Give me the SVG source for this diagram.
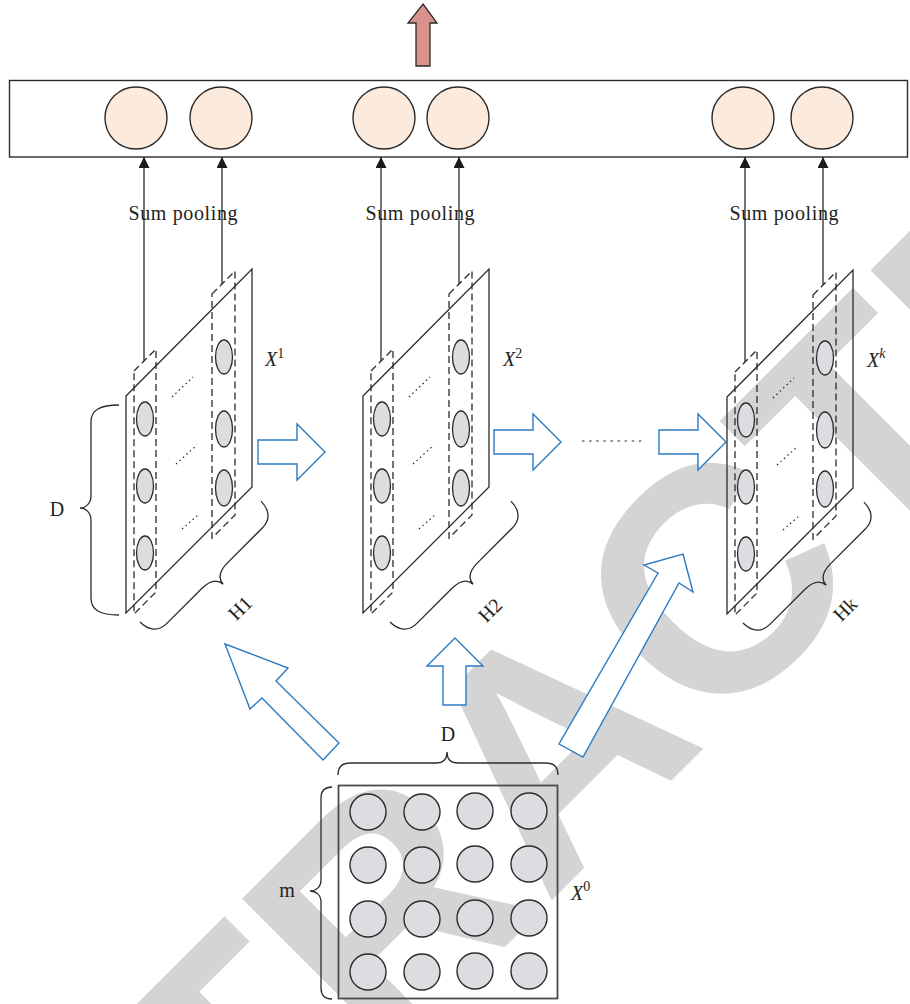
<svg xmlns="http://www.w3.org/2000/svg" xmlns:xlink="http://www.w3.org/1999/xlink" width="910" height="1004" viewBox="0 0 910 1004">
<style>
.ln{fill:none;stroke:#2b2b2b;stroke-width:1.3}
.dash{fill:none;stroke:#2b2b2b;stroke-width:1.3;stroke-dasharray:7 4}
.dot{fill:none;stroke:#2b2b2b;stroke-width:1.2;stroke-dasharray:1.5 3.2}
.ell{fill:#dcdde0;stroke:#2b2b2b;stroke-width:1.3}
.cir{fill:#dcdde0;stroke:#2b2b2b;stroke-width:1.4}
.out{fill:#fcebdc;stroke:#2b2b2b;stroke-width:1.4}
.blue{fill:#ffffff;stroke:#2b7bc2;stroke-width:1.4;stroke-linejoin:miter}
.lbl{font-family:"Liberation Serif",serif;font-size:20px;fill:#231f20}
.it{font-style:italic}
.sup{font-size:14px;font-style:normal}
.wm{font-family:"Liberation Sans",Arial,sans-serif;font-weight:bold;font-size:320px;fill:#d4d4d4}
</style>
<defs>
<marker id="ah" markerUnits="userSpaceOnUse" markerWidth="11" markerHeight="11" refX="11" refY="5.5" orient="auto">
<path d="M0,0 L11,5.5 L0,11 z" fill="#1a1a1a"/>
</marker>
<g id="panel">
<polygon class="ln" points="126,396 252,269 252,487 126,613"/>
<polygon class="dash" points="134,371 156,349 156,592 134,614"/>
<polygon class="dash" points="212,294 235,271 235,515 212,538"/>
<ellipse class="ell" cx="145" cy="419" rx="8.5" ry="17"/>
<ellipse class="ell" cx="145" cy="486" rx="8.5" ry="17"/>
<ellipse class="ell" cx="145" cy="553" rx="8.5" ry="17"/>
<ellipse class="ell" cx="224" cy="357" rx="8.5" ry="17"/>
<ellipse class="ell" cx="224" cy="429" rx="8.5" ry="18"/>
<ellipse class="ell" cx="224" cy="488" rx="8.5" ry="18"/>
<line class="dot" x1="172" y1="397" x2="193" y2="377"/>
<line class="dot" x1="176" y1="464" x2="197" y2="445"/>
<line class="dot" x1="182" y1="529" x2="198" y2="515"/>
</g>
<path id="brace" class="ln" d="M0,0 C0,12 6,20 18,20 L67,20 C78,20 85,24 85.5,32 C86,24 93,20 104,20 L153,20 C165,20 171,12 171,0"/>
</defs>

<g id="watermark">
<text class="wm" x="-70" y="1522" transform="rotate(-45 -70 1522)">RETRACTED</text>
</g>

<g id="output-layer">
<rect x="9.5" y="80.5" width="898" height="76.5" fill="none" stroke="#2b2b2b" stroke-width="1.4"/>
<circle class="out" cx="136" cy="118" r="31"/>
<circle class="out" cx="221" cy="118" r="31"/>
<circle class="out" cx="384" cy="118" r="31"/>
<circle class="out" cx="458" cy="118" r="31"/>
<circle class="out" cx="743" cy="118" r="31"/>
<circle class="out" cx="822" cy="118" r="31"/>
</g>

<g id="panel1">
<use xlink:href="#panel"/>
<text class="lbl it" x="265" y="366">X<tspan class="sup" dy="-8">1</tspan></text>
</g>
<g id="panel2">
<use xlink:href="#panel" transform="translate(237,0)"/>
<text class="lbl it" x="503" y="366">X<tspan class="sup" dy="-8">2</tspan></text>
</g>
<g id="panelk">
<use xlink:href="#panel" transform="translate(601,1)"/>
<text class="lbl it" x="867" y="367">X<tspan class="sup" dy="-9" style="font-style:italic">k</tspan></text>
</g>

<g id="input-x0">
<rect x="338.5" y="785.5" width="219" height="213" fill="none" stroke="#4a4a4a" stroke-width="1.8"/>
<circle class="cir" cx="368" cy="812" r="18"/>
<circle class="cir" cx="422" cy="812" r="18"/>
<circle class="cir" cx="475" cy="811" r="18"/>
<circle class="cir" cx="529" cy="811" r="18"/>
<circle class="cir" cx="368" cy="865" r="18"/>
<circle class="cir" cx="422" cy="865" r="18"/>
<circle class="cir" cx="475" cy="864" r="18"/>
<circle class="cir" cx="529" cy="864" r="18"/>
<circle class="cir" cx="368" cy="919" r="18"/>
<circle class="cir" cx="422" cy="919" r="18"/>
<circle class="cir" cx="475" cy="918" r="18"/>
<circle class="cir" cx="529" cy="918" r="18"/>
<circle class="cir" cx="368" cy="972" r="18"/>
<circle class="cir" cx="422" cy="972" r="18"/>
<circle class="cir" cx="475" cy="971" r="18"/>
<circle class="cir" cx="529" cy="971" r="18"/>
<text class="lbl it" x="571" y="900">X<tspan class="sup" dy="-9">0</tspan></text>
</g>

<g id="braces">
<path class="ln" d="M119,405 C100,405 91,410 91,422 L91,496 C91,503 86,508 80,508 C86,508 91,513 91,520 L91,598 C91,610 100,615 119,615"/>
<text class="lbl" x="57" y="516" text-anchor="middle">D</text>
<use xlink:href="#brace" transform="translate(140,622) rotate(-45)"/>
<text class="lbl" x="240" y="608" dy="7" text-anchor="middle" transform="rotate(-45 240 608)">H1</text>
<use xlink:href="#brace" transform="translate(390,622) rotate(-45)"/>
<text class="lbl" x="490" y="610" dy="7" text-anchor="middle" transform="rotate(-45 490 610)">H2</text>
<use xlink:href="#brace" transform="translate(743,623) rotate(-45)"/>
<text class="lbl" x="845" y="609" dy="7" text-anchor="middle" transform="rotate(-45 845 609)">Hk</text>
<path class="ln" d="M338,775 C338,767 342,763 350,763 L436,763 C443,763 447,759 447,752 C447,759 451,763 458,763 L546,763 C554,763 558,767 558,775"/>
<text class="lbl" x="448" y="741" text-anchor="middle">D</text>
<path class="ln" d="M332,787 C325,787 321,791 321,798 L321,880 C321,887 316,891 310,891 C316,891 321,895 321,902 L321,988 C321,995 325,999 332,999"/>
<text class="lbl" x="287" y="897" text-anchor="middle">m</text>
</g>

<g id="connectors">
<polygon points="423,4 437,23 430,23 430,66 416,66 416,23 408,23" fill="#d8928c" stroke="#2b2b2b" stroke-width="1.3"/>
<line class="ln" x1="144" y1="361" x2="144" y2="157" marker-end="url(#ah)"/>
<line class="ln" x1="222" y1="284" x2="222" y2="157" marker-end="url(#ah)"/>
<line class="ln" x1="381" y1="361" x2="381" y2="157" marker-end="url(#ah)"/>
<line class="ln" x1="459" y1="284" x2="459" y2="157" marker-end="url(#ah)"/>
<line class="ln" x1="745" y1="362" x2="745" y2="157" marker-end="url(#ah)"/>
<line class="ln" x1="823" y1="285" x2="823" y2="157" marker-end="url(#ah)"/>
<text class="lbl" x="183" y="220" text-anchor="middle" textLength="109" lengthAdjust="spacing">Sum pooling</text>
<text class="lbl" x="420" y="220" text-anchor="middle" textLength="109" lengthAdjust="spacing">Sum pooling</text>
<text class="lbl" x="784" y="220" text-anchor="middle" textLength="109" lengthAdjust="spacing">Sum pooling</text>
<polygon class="blue" points="258,440 297,440 297,424 325,452 297,480 297,464 258,464"/>
<polygon class="blue" points="494,430 533,430 533,414 561,442 533,470 533,454 494,454"/>
<line class="dot" x1="582" y1="441" x2="646" y2="441" style="stroke-dasharray:2.5 4.6"/>
<polygon class="blue" points="659,430 698,430 698,414 726,442 698,470 698,454 659,454"/>
<polygon class="blue" points="225,644 288,668 276,681 339,743 323,760 262,698 250,709"/>
<polygon class="blue" points="455,638 483,666 466,666 466,705 443,705 443,666 427,666"/>
<polygon class="blue" points="683,554 693,592 679,583 583,757 559,744 658,573 644,565"/>
</g>
</svg>
